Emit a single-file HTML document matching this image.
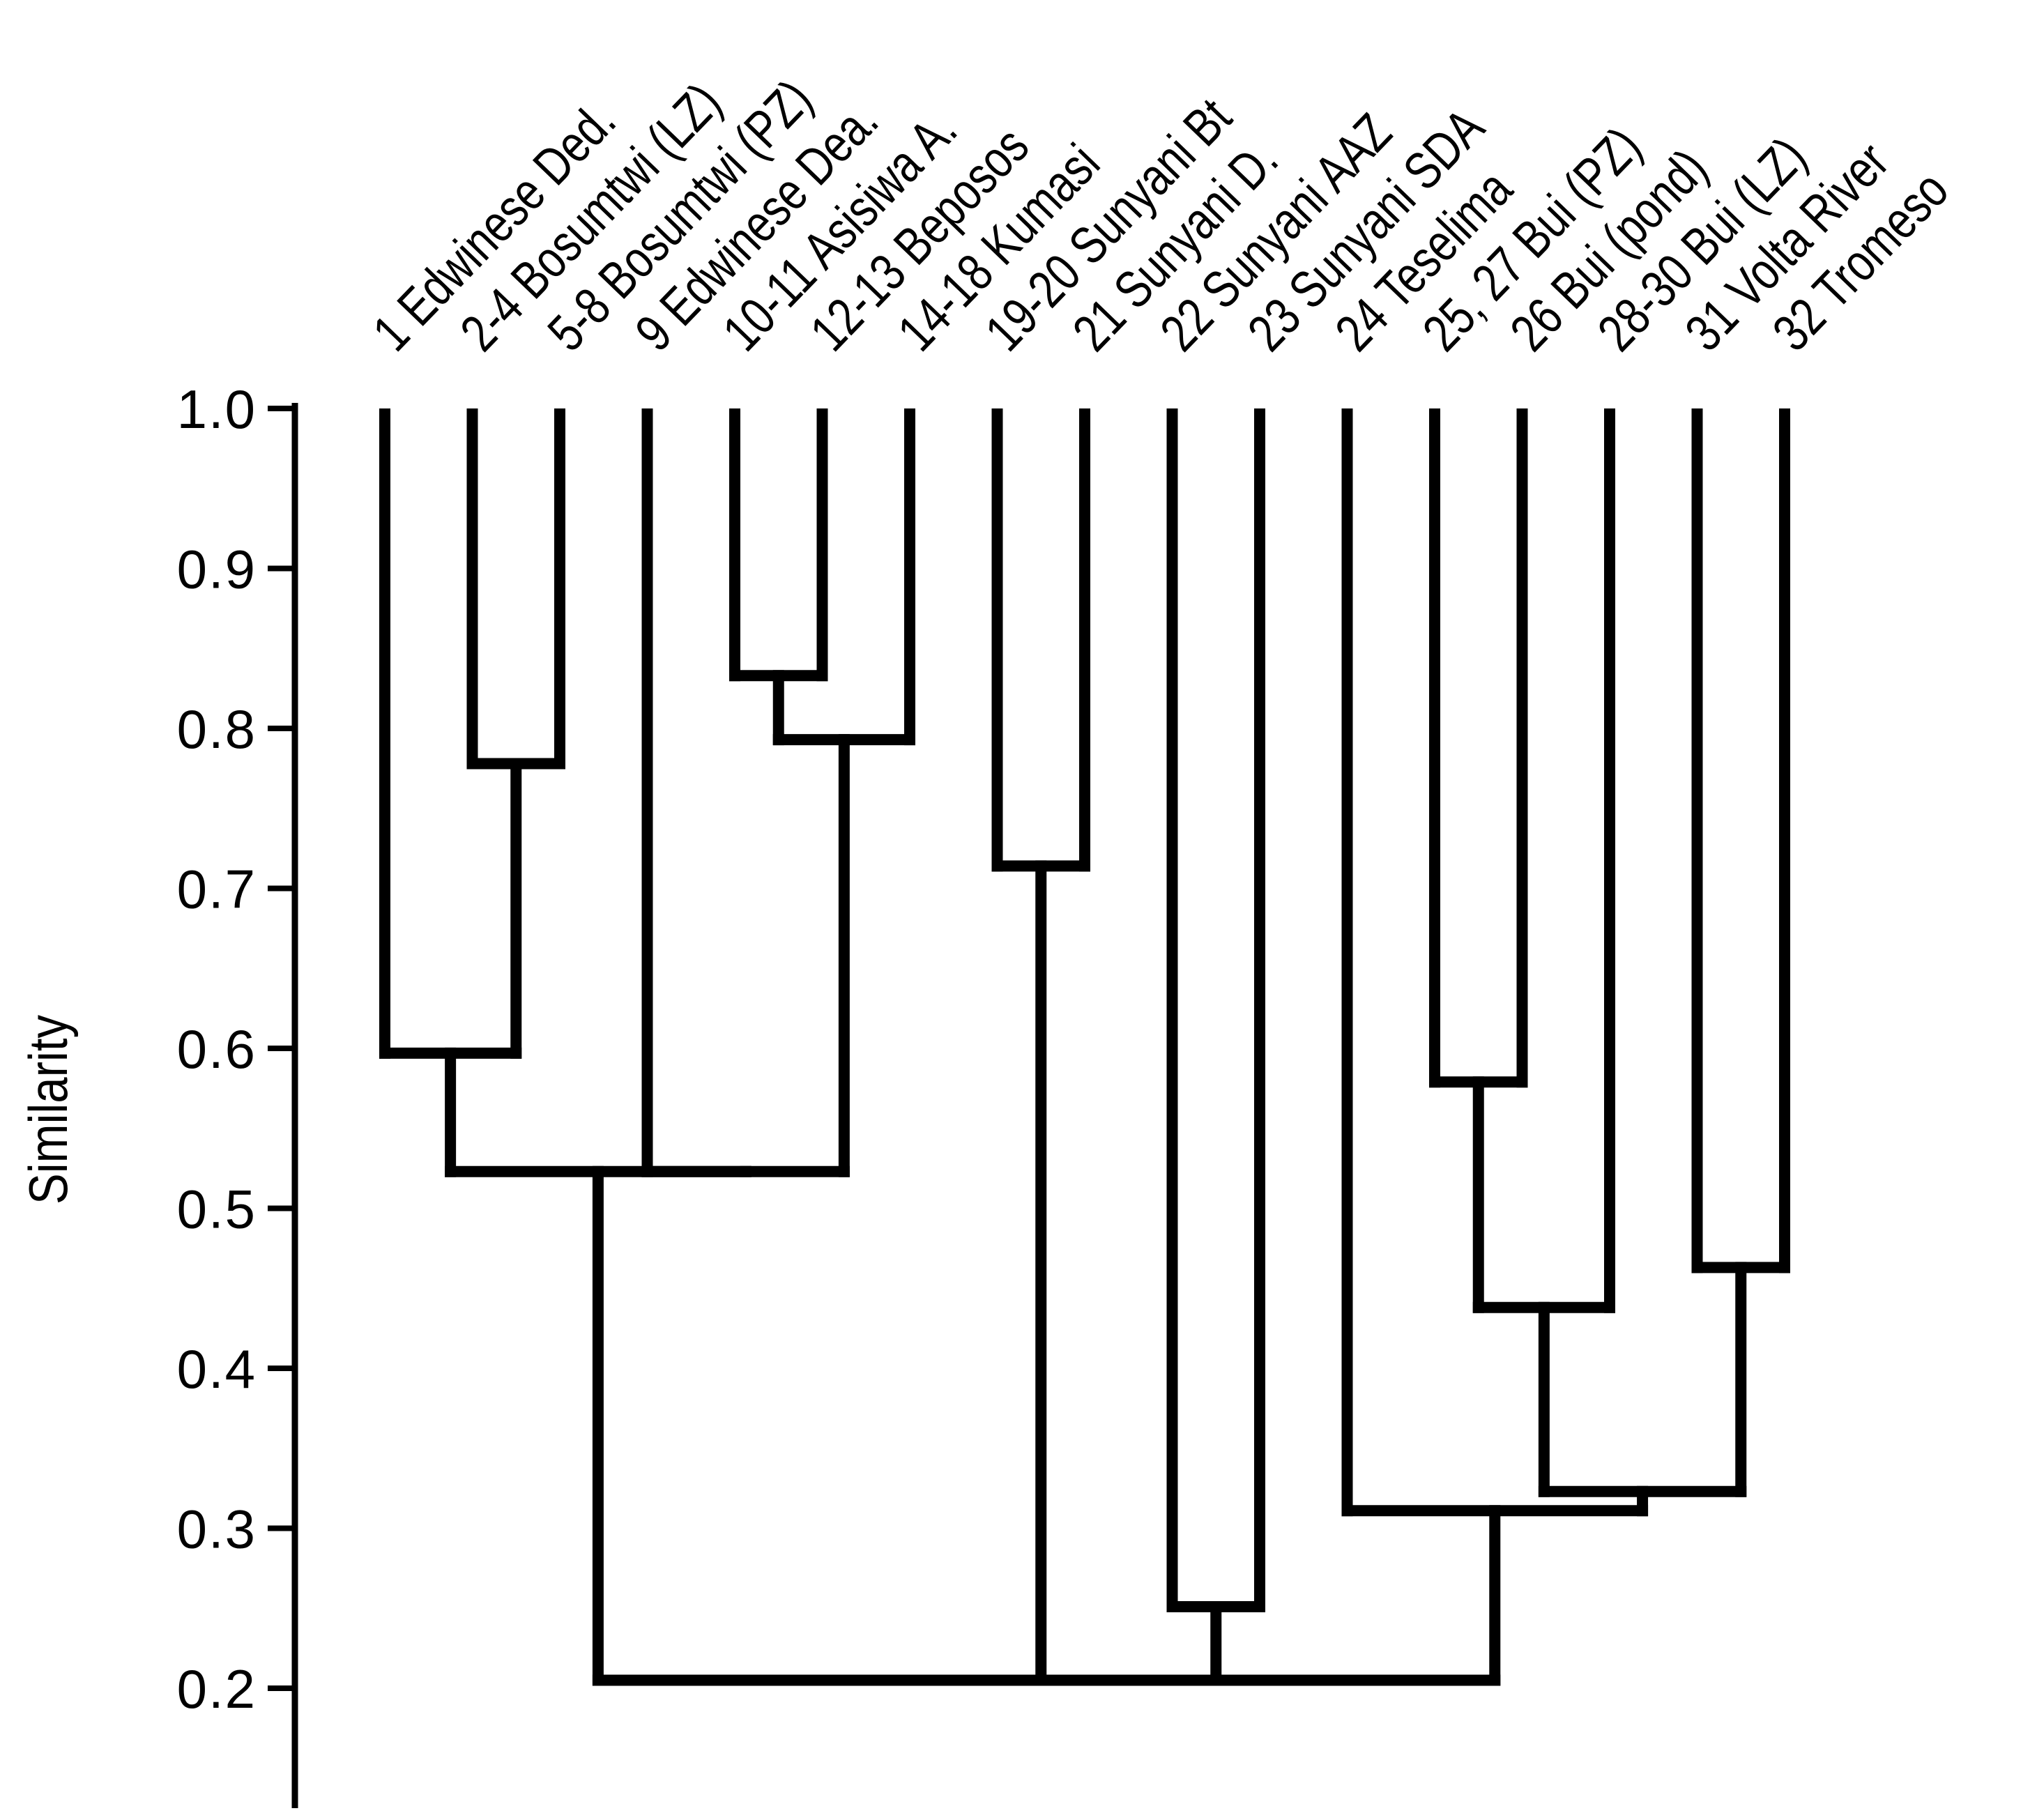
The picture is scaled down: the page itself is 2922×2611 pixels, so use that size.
<!DOCTYPE html>
<html><head><meta charset="utf-8"><style>
html,body{margin:0;padding:0;background:#fff;}
svg{display:block;}
text{font-family:"Liberation Sans",Arial,sans-serif;fill:#000;}
</style></head><body>
<svg id="chart" width="2922" height="2611" viewBox="0 0 2922 2611">
<g id="axis"></g>
<g id="tree"></g>
<g id="labels"></g>
<text x="0" y="0" font-size="78" text-anchor="middle" transform="translate(96,1592) rotate(-90) scale(0.86,1)">Similarity</text>
</svg>
<script>
const leafLabels = ["1 Edwinese Ded.","2-4 Bosumtwi (LZ)","5-8 Bosumtwi (PZ)","9 Edwinese Dea.","10-11 Asisiwa A.","12-13 Beposos","14-18 Kumasi","19-20 Sunyani Bt","21 Sunyani D.","22 Sunyani AAZ","23 Sunyani SDA","24 Teselima","25, 27 Bui (PZ)","26 Bui (pond)","28-30 Bui (LZ)","31 Volta River","32 Tromeso"];
const yTicks = [1.0,0.9,0.8,0.7,0.6,0.5,0.4,0.3,0.2];
// merges: leaves are 0..16, internal nodes numbered 17+ in order
const mergeLeft  = [1, 0, 4, 19, 3, 18, 7, 9, 12, 25, 15, 26, 11, 22, 24, 30];
const mergeRight = [2, 17, 5, 6, 20, 21, 8, 10, 13, 14, 16, 27, 28, 23, 29, 31];
const mergeSim   = [0.778,0.597,0.833,0.793,0.523,0.523,0.714,0.251,0.579,0.438,0.463,0.323,0.311,0.205,0.205,0.205];
</script>
<script>
const NS="http://www.w3.org/2000/svg";
const axisX=423, yTop=586, yBot=2422, leaf0=552, leafStep=125.5;
function yS(v){return yTop+(1-v)*(yBot-yTop)/0.8;}
function xS(i){return leaf0+i*leafStep;}
function mk(tag,attrs,parent){const e=document.createElementNS(NS,tag);for(const k in attrs)e.setAttribute(k,attrs[k]);parent.appendChild(e);return e;}
const axis=document.getElementById('axis');
const ax=mk('line',{x1:axisX,y1:yTop-8,x2:axisX,y2:2594,stroke:'#000','stroke-width':9},axis);


yTicks.forEach(v=>{
  const t=mk('line',{x1:384,y1:yS(v),x2:axisX,y2:yS(v),stroke:'#000','stroke-width':8},axis);
  
  
  const l=mk('text',{x:368,y:yS(v)+28,'font-size':78,'text-anchor':'end','letter-spacing':2},axis);
  l.textContent=v.toFixed(1);
  
  
});
const tree=document.getElementById('tree');
const nL=leafLabels.length;
const nodeX=[],nodeY=[];
for(let i=0;i<nL;i++){nodeX.push(xS(i));nodeY.push(1.0);}
const W=16;
for(let m=0;m<mergeSim.length;m++){
  const a=mergeLeft[m], b=mergeRight[m], s=mergeSim[m];
  const xa=nodeX[a], xb=nodeX[b], y=yS(s);
  const va=mk('line',{x1:xa,y1:yS(nodeY[a])-(nodeY[a]===1?0:W/2),x2:xa,y2:y+W/2,stroke:'#000','stroke-width':W},tree);
  
  
  const vb=mk('line',{x1:xb,y1:yS(nodeY[b])-(nodeY[b]===1?0:W/2),x2:xb,y2:y+W/2,stroke:'#000','stroke-width':W},tree);
  
  
  const h=mk('line',{x1:Math.min(xa,xb)-W/2,y1:y,x2:Math.max(xa,xb)+W/2,y2:y,stroke:'#000','stroke-width':W},tree);
  
  
  nodeX.push((xa+xb)/2);nodeY.push(s);
}
const labels=document.getElementById('labels');
leafLabels.forEach((t,i)=>{
  const x=xS(i)+16, y=508;
  const e=mk('text',{x:0,y:0,'font-size':76,transform:`translate(${x},${y}) rotate(-46) scale(0.8,1)`},labels);
  e.textContent=t;
  
  
});
</script>
</body></html>
